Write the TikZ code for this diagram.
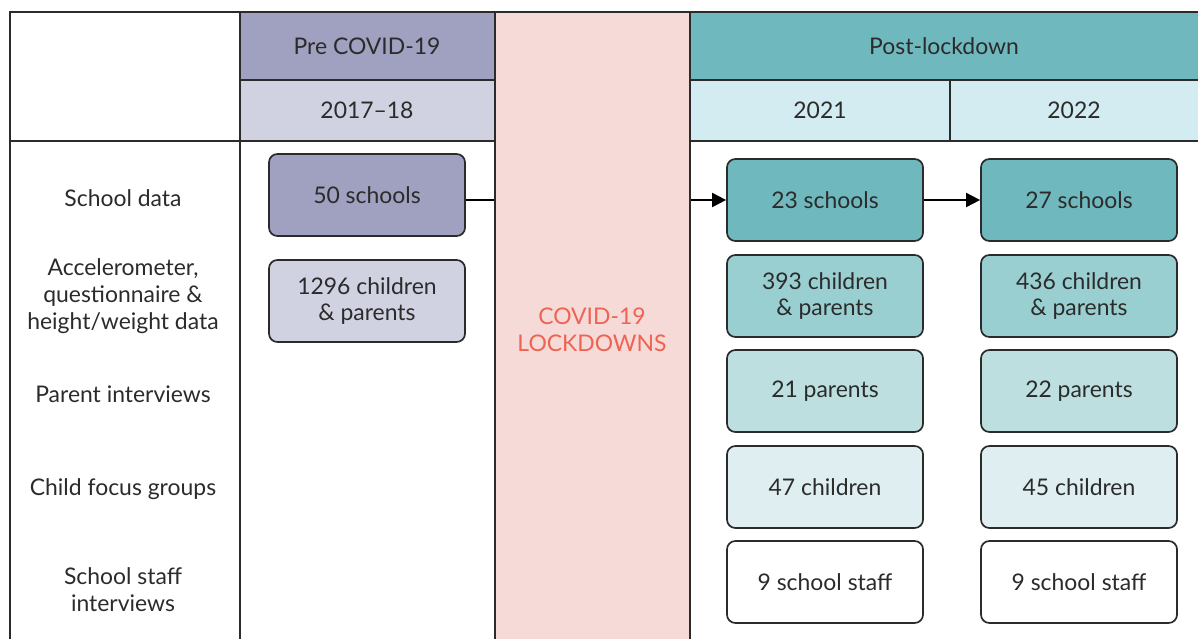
\documentclass[tikz,border=0pt]{standalone}
\usepackage{fontspec}
\setmainfont{Lato}
\usepackage{tikz}
\usetikzlibrary{arrows.meta}

\definecolor{Ink}      {HTML}{2B2B2B}
\definecolor{PreDark}  {HTML}{A0A0C0}
\definecolor{PreLight} {HTML}{D0D1E1}
\definecolor{Lockdown} {HTML}{F6DAD8}
\definecolor{LockText} {HTML}{EE6352}
\definecolor{PostDark} {HTML}{6FB9BE}
\definecolor{PostLight}{HTML}{D3ECF1}
\definecolor{TealMid}  {HTML}{9ACFD2}
\definecolor{TealSoft} {HTML}{BDDFDF}
\definecolor{TealPale} {HTML}{DFEEF0}

\begin{document}
\begin{tikzpicture}[x=0.025cm,y=-0.025cm,
          every node/.style={text=Ink,align=center,
                             font=\fontsize{16.3}{19}\selectfont},
          box/.style={draw=Ink,line width=1.2pt,rounded corners=6pt,
                      minimum width=4.9cm,minimum height=2.05cm},
          rule/.style={draw=Ink,line width=1.4pt},
          arr/.style={draw=black,line width=1.3pt,
                      -{Triangle[length=10pt,width=10pt]}}]
        \useasboundingbox (0,0) rectangle (1198,639);
        % header bands
        \fill[PreDark]   (240,12) rectangle (495,80);
        \fill[PreLight]  (240,80) rectangle (495,141);
        \fill[PostDark]  (690,12) rectangle (1198,80);
        \fill[PostLight] (690,80) rectangle (1198,141);
        \node (pre)   at (367,46)  {Pre COVID-19};
        \node (y1718) at (367,110) {2017--18};
        \node (post)  at (944,46)  {Post-lockdown};
        \node (y2021) at (820,110) {2021};
        \node (y2022) at (1074,110){2022};

        % row labels
        \node (r1) at (123,198) {School data};
        \node (r2) at (123,296) {Accelerometer,\\questionnaire \&\\height/weight data};
        \node (r3) at (123,394) {Parent interviews};
        \node (r4) at (123,489) {Child focus groups};
        \node (r5) at (123,590) {School staff\\interviews};

        % data boxes
        \node[box,fill=PreDark]  (s50)  at (367,195)  {50 schools};
        \node[box,fill=PreLight] (c1296) at (367,301) {1296 children\\\& parents};
        \node[box,fill=PostDark] (s23)  at (825,200)  {23 schools};
        \node[box,fill=PostDark] (s27)  at (1079,200) {27 schools};
        \node[box,fill=TealMid]  (c393) at (825,296)  {393 children\\\& parents};
        \node[box,fill=TealMid]  (c436) at (1079,296) {436 children\\\& parents};
        \node[box,fill=TealSoft] (p21)  at (825,391)  {21 parents};
        \node[box,fill=TealSoft] (p22)  at (1079,391) {22 parents};
        \node[box,fill=TealPale] (k47)  at (825,487)  {47 children};
        \node[box,fill=TealPale] (k45)  at (1079,487) {45 children};
        \node[box,fill=white]    (st1)  at (825,582)  {9 school staff};
        \node[box,fill=white]    (st2)  at (1079,582) {9 school staff};

        \draw[arr] (s50.east |- s23.west) -- (s23.west);
        \draw[arr] (s23) -- (s27);

        % lockdown band goes over the first arrow
        \fill[Lockdown] (495,12) rectangle (690,639);
        \node[text=LockText] (lock) at (592,330) {COVID-19\\LOCKDOWNS};

        % grid lines
        \draw[rule] (10,639) -- (10,12) -- (1198,12);
        \draw[rule] (240,12) -- (240,639);
        \draw[rule] (495,12) -- (495,639);
        \draw[rule] (690,12) -- (690,639);
        \draw[rule] (10,141) -- (495,141) (690,141) -- (1198,141);
        \draw[rule] (240,80) -- (495,80) (690,80) -- (1198,80);
        \draw[rule] (950,80) -- (950,141);
      \end{tikzpicture}
\end{document}
